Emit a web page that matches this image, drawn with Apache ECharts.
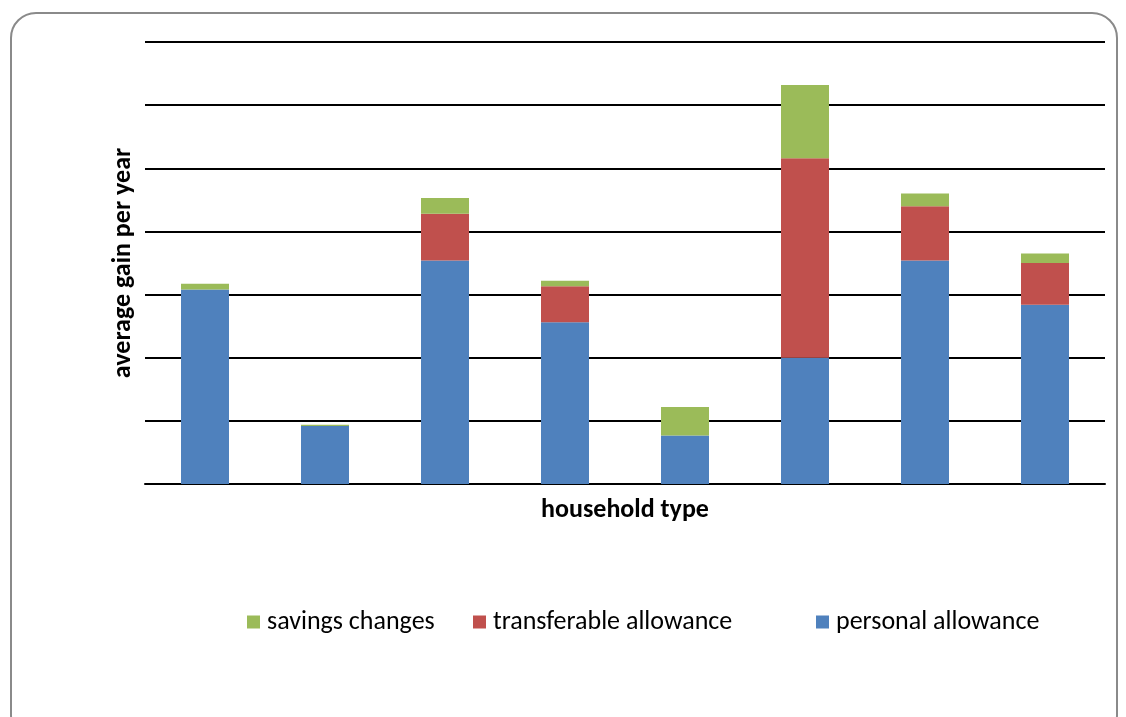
<!DOCTYPE html>
<html>
<head>
<meta charset="utf-8">
<script src="https://cdn.jsdelivr.net/npm/echarts@6/dist/echarts.min.js"></script>
<style>
  html, body { margin: 0; padding: 0; background: #fff; }
  .frame {
    position: absolute; left: 10px; top: 12px;
    width: 1108px; height: 730px;
    border: 2px solid #8a8a8a; border-radius: 26px;
    box-sizing: border-box;
  }
  #chart { position: absolute; left: 0; top: 0; width: 1126px; height: 717px; }
</style>
</head>
<body>
<div class="frame"></div>
<div id="chart"></div>
<script>
  // household types (no labels shown in the original)
  const categories = ['type 1', 'type 2', 'type 3', 'type 4', 'type 5', 'type 6', 'type 7', 'type 8']
  const personalAllowance = [154, 46, 177, 128, 38.5, 100, 177, 142]
  const transferableAllowance = [0, 0, 37, 28.5, 0, 158, 43, 33]
  const savingsChanges = [4.5, 1, 12.5, 4.5, 22.5, 58, 10, 7.5]

  const font = "Carlito, 'Open Sans', 'Noto Sans', sans-serif"

  function legendItem(name, left) {
    return {
      data: [name],
      left: left,
      top: 604,
      icon: 'rect',
      itemWidth: 13,
      itemHeight: 13,
      textStyle: { fontSize: 26, color: '#000', fontFamily: font, padding: [0, 0, 0, 2] }
    }
  }

  const myChart = echarts.init(document.getElementById('chart'))
  const option = {
    animation: false,
    textStyle: { fontFamily: font },
    grid: { left: 145, right: 21, top: 42, bottom: 233 },
    legend: [
      legendItem('savings changes', 242),
      legendItem('transferable allowance', 468),
      legendItem('personal allowance', 811)
    ],
    xAxis: {
      type: 'category',
      data: categories,
      name: 'household type',
      nameLocation: 'middle',
      nameGap: 13,
      nameTextStyle: { fontSize: 26, fontWeight: 'bold', color: '#000', verticalAlign: 'top' },
      axisLine: { lineStyle: { color: '#000', width: 2 } },
      axisTick: { show: false },
      axisLabel: { show: false }
    },
    yAxis: {
      type: 'value',
      min: 0,
      max: 350,
      interval: 50,
      name: 'average gain per year',
      nameLocation: 'middle',
      nameGap: 9,
      nameTextStyle: { fontSize: 26, fontWeight: 'bold', color: '#000' },
      axisLine: { show: false },
      axisTick: { show: false },
      axisLabel: { show: false },
      splitLine: { lineStyle: { color: '#000', width: 2 } }
    },
    series: [{
        name: 'personal allowance',
        type: 'bar',
        stack: 'gain',
        barWidth: '40%',
        itemStyle: { color: '#4F81BD' },
        data: personalAllowance
      },
      {
        name: 'transferable allowance',
        type: 'bar',
        stack: 'gain',
        itemStyle: { color: '#C0504D' },
        data: transferableAllowance
      },
      {
        name: 'savings changes',
        type: 'bar',
        stack: 'gain',
        itemStyle: { color: '#9BBB59' },
        data: savingsChanges
      }
    ]
  }
  myChart.setOption(option)
</script>
</body>
</html>
